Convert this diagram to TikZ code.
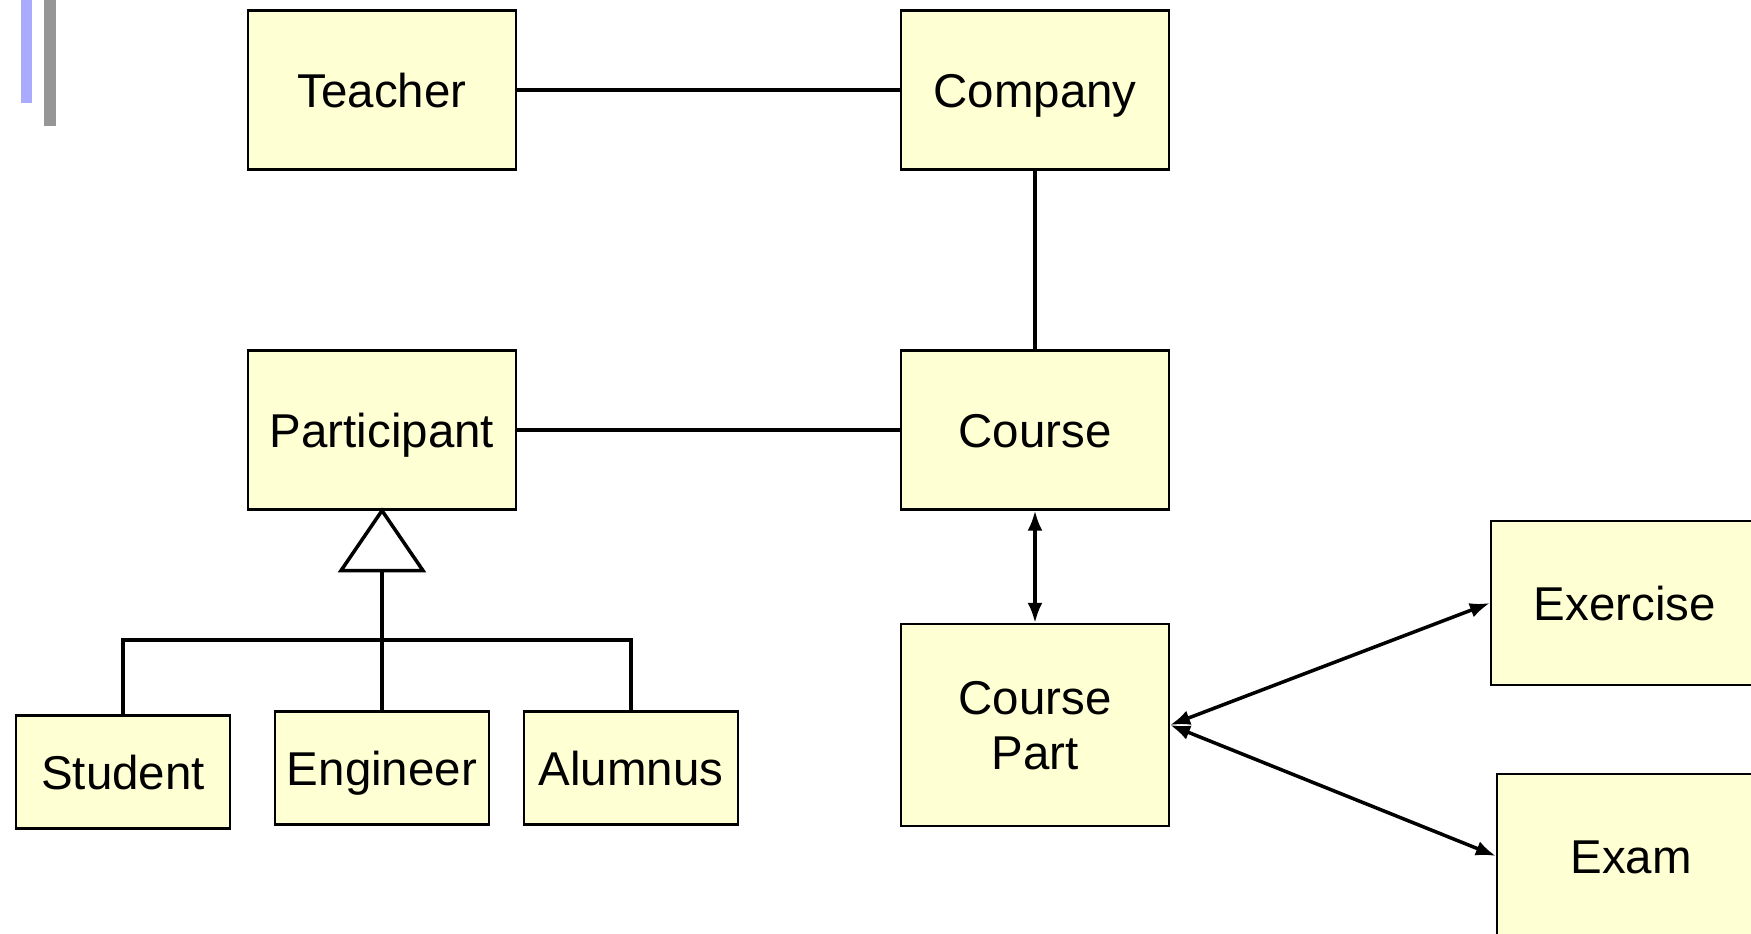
\documentclass[tikz,border=0pt]{standalone}
\usepackage{fontspec}
\setmainfont{Liberation Sans}
\usepackage{tikz}
\usetikzlibrary{arrows.meta,positioning}

\definecolor{boxfill}{RGB}{255,255,212}
\definecolor{barblue}{RGB}{170,170,255}
\definecolor{bargray}{RGB}{150,150,150}

\begin{document}
\begin{tikzpicture}[x=0.01cm, y=-0.01cm,
  >={Latex[length=2mm, width=1.5mm]},
  entity/.style={rectangle, draw, line width=0.6pt, fill=boxfill, inner sep=0pt,
    align=center, text height=9.7pt, text depth=0pt,
    font=\fontsize{13.5}{15.5}\selectfont},
  bigbox/.style={entity, minimum width=2.68cm, minimum height=1.59cm},
  smallbox/.style={entity, minimum width=2.13cm, minimum height=1.13cm},
  link/.style={draw, line width=1pt}
]

  \useasboundingbox (0,0) rectangle (1751,933);
  \clip (0,0) rectangle (1751,933);

  % -- corner bars --
  \fill[barblue] (21,0) rectangle (32,103);
  \fill[bargray] (44,0) rectangle (56,126);

  % -- upper classes --
  \node[bigbox] (teacher) at (382,90) {Teacher};
  \node[bigbox] (company) at (1035,90) {Company};
  \node[bigbox] (participant) at (382,430) {Participant};
  \node[bigbox] (course) at (1035,430) {Course};

  \draw[link] (teacher) -- (company);
  \draw[link] (company) -- (course);
  \draw[link] (participant) -- (course);

  % -- subclasses of Participant --
  \node[smallbox] (student)  at (123,772) {Student};
  \node[smallbox] (engineer) at (382,768) {Engineer};
  \node[smallbox] (alumnus)  at (631,768) {Alumnus};

  \draw[link, fill=white] (participant.south) -- ++(-41,60) -- ++(82,0) -- cycle;
  \path (participant.south) ++(0,60) coordinate (gen);
  \coordinate (bar) at (382,640);
  \draw[link] (gen) -- (engineer.north);
  \draw[link] (student.north) |- (bar) -| (alumnus.north);

  % -- course parts --
  \node[bigbox, minimum height=2.02cm, text height=25.2pt] (cpart) at (1035,725) {Course\\Part};
  \node[bigbox, minimum height=1.64cm] (exercise) at (1625,603) {Exercise};
  \node[bigbox, minimum height=1.64cm] (exam) at (1631,856) {Exam};

  \draw[link, <->] (course) -- (cpart);
  \draw[link, <->] (cpart.east) -- (exercise.west);
  \draw[link, <->] (cpart.east) -- (exam.west);

\end{tikzpicture}
\end{document}
